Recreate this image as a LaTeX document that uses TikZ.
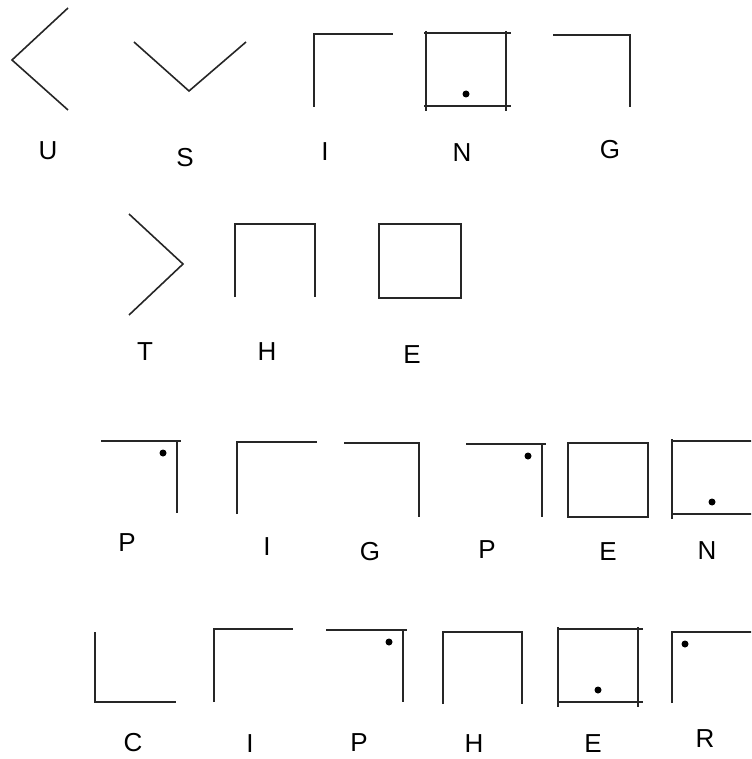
\documentclass[tikz,border=0pt]{standalone}
\usepackage{fontspec}
\setmainfont{Liberation Sans}

\begin{document}
\begin{tikzpicture}[x=1pt,y=-1pt,
	bar/.style={line width=2.7pt, black!85},
	wedge/.style={line width=1.6pt, black!85},
	letter/.style={font=\fontsize{26}{30}\selectfont, inner sep=0pt},
	pip/.style={fill=black}]
	\clip (0,0) rectangle (751,759);
	% row 1: U S I N G
	\draw[wedge] (68,8) -- (12,60) -- (68,110);
	\draw[wedge] (134,42) -- (189,91) -- (246,42);
	\draw[bar] (314,107) -- (314,34) -- (393,34);
	\draw[bar] (424,33) -- (511,33) (424,106) -- (511,106) (426,31) -- (426,111) (506,31) -- (506,111);
	\fill[pip] (466,94) circle (3.5);
	\draw[bar] (553,35) -- (630,35) -- (630,107);
	\node[letter] (u1) at (48,151) {U};
	\node[letter] (s1) at (185,158) {S};
	\node[letter] (i1) at (325,152) {I};
	\node[letter] (n1) at (462,153) {N};
	\node[letter] (g1) at (610,150) {G};
	% row 2: T H E
	\draw[wedge] (129,214) -- (183,264) -- (129,315);
	\draw[bar] (235,297) -- (235,224) -- (315,224) -- (315,297);
	\draw[bar] (379,224) rectangle (461,298);
	\node[letter] (t2) at (145,352) {T};
	\node[letter] (h2) at (267,352) {H};
	\node[letter] (e2) at (412,355) {E};
	% row 3: P I G P E N
	\draw[bar] (101,441) -- (181,441) (177,441) -- (177,513);
	\fill[pip] (163,453) circle (3.5);
	\draw[bar] (237,514) -- (237,442) -- (317,442);
	\draw[bar] (344,443) -- (419,443) -- (419,517);
	\draw[bar] (466,444) -- (546,444) (542,444) -- (542,517);
	\fill[pip] (528,456) circle (3.5);
	\draw[bar] (568,443) rectangle (648,517);
	\draw[bar] (672,441) -- (760,441) (672,514) -- (760,514) (672,439) -- (672,519);
	\fill[pip] (712,502) circle (3.5);
	\node[letter] (p3) at (127,543) {P};
	\node[letter] (i3) at (267,547) {I};
	\node[letter] (g3) at (370,552) {G};
	\node[letter] (q3) at (487,550) {P};
	\node[letter] (e3) at (608,552) {E};
	\node[letter] (n3) at (707,551) {N};
	% row 4: C I P H E R
	\draw[bar] (95,632) -- (95,702) -- (176,702);
	\draw[bar] (214,702) -- (214,629) -- (293,629);
	\draw[bar] (326,630) -- (407,630) (403,630) -- (403,702);
	\fill[pip] (389,642) circle (3.5);
	\draw[bar] (443,704) -- (443,632) -- (522,632) -- (522,704);
	\draw[bar] (558,629) -- (643,629) (558,702) -- (643,702) (558,627) -- (558,707) (638,627) -- (638,707);
	\fill[pip] (598,690) circle (3.5);
	\draw[bar] (672,703) -- (672,632) -- (760,632);
	\fill[pip] (685,644) circle (3.5);
	\node[letter] (c4) at (133,743) {C};
	\node[letter] (i4) at (250,744) {I};
	\node[letter] (p4) at (359,743) {P};
	\node[letter] (h4) at (474,744) {H};
	\node[letter] (e4) at (593,744) {E};
	\node[letter] (r4) at (705,739) {R};
\end{tikzpicture}
\end{document}
